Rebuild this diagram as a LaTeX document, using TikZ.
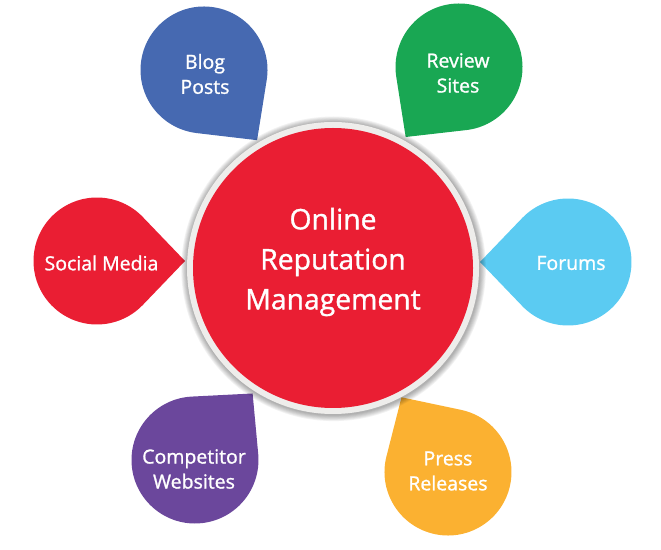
\documentclass[tikz,border=0pt]{standalone}
\usepackage{fontspec}
\setmainfont{Open Sans}
\newfontfamily\labelfont{Open Sans}[FakeBold=1.2]
\definecolor{cblue}{HTML}{4669B1}
\definecolor{cgreen}{HTML}{19A753}
\definecolor{cred}{HTML}{EA1E33}
\definecolor{csky}{HTML}{5BCBF2}
\definecolor{cpurple}{HTML}{6B479C}
\definecolor{corange}{HTML}{FBB131}
\definecolor{cring}{HTML}{EEEDEB}
\newcommand\drawpetal[5]{%
  \coordinate (#1) at (#2,#3);
  \pgfmathsetmacro\pa{#4+43.8}%
  \pgfmathsetmacro\pb{#4-43.8+360}%
  \fill[#5] ([shift={(#4:88pt)}]#1) coordinate (#1-tip) -- ([shift={(\pa:63.5pt)}]#1) arc[start angle=\pa, end angle=\pb, radius=63.5pt] -- cycle;
}
\tikzset{
  petaltext/.style={text=white, align=center, inner sep=0pt, font=\labelfont\fontsize{19.5pt}{25pt}\selectfont},
  centertext/.style={text=white, align=center, inner sep=0pt, font=\labelfont\fontsize{28.3pt}{40pt}\selectfont},
}
\begin{document}
\begin{tikzpicture}[x=1pt,y=1pt]
\useasboundingbox (0,0) rectangle (661,549);
% petals
\drawpetal{blog}{204}{479}{-52.9}{cblue}
\drawpetal{review}{459}{482}{-127.3}{cgreen}
\drawpetal{social}{97}{288}{0}{cred}
\drawpetal{forums}{568}{287}{180}{csky}
\drawpetal{comp}{195}{89}{49.1}{cpurple}
\drawpetal{press}{448}{77}{121.9}{corange}
\node[petaltext] (blogt) at (205,475) {Blog\\Posts};
\node[petaltext] (reviewt) at (458,476) {Review\\Sites};
\node[petaltext] (socialt) at (101.5,286) {Social Media};
\node[petaltext] (forumst) at (571,286) {Forums};
\node[petaltext] (compt) at (194,80) {Competitor\\Websites};
\node[petaltext] (presst) at (448,78) {Press\\Releases};
% central circle with soft shadow
\coordinate (cc) at (333,281);
\foreach \k in {1,...,7}
  \fill[black, opacity=0.05] ([shift={(0.6pt,-0.8pt)}]cc) circle[radius=146pt+\k*0.9pt];
\node[circle, fill=cring, minimum size=292pt, inner sep=0pt] (ring) at (cc) {};
\node[circle, fill=cred, minimum size=280pt, inner sep=0pt] (orm) at (cc) {};
\node[centertext] (ormt) at (333,287) {Online\\Reputation\\Management};
\end{tikzpicture}
\end{document}
